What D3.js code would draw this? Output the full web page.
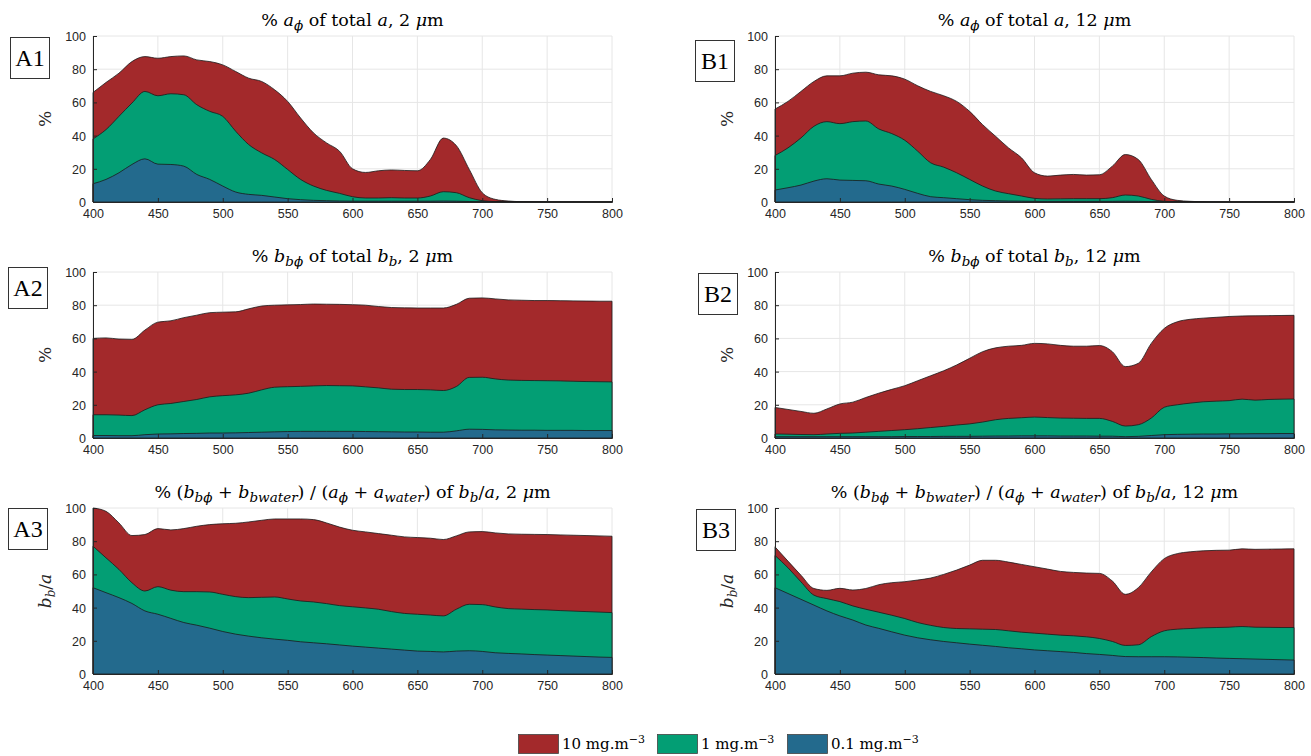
<!DOCTYPE html>
<html>
<head>
<meta charset="utf-8">
<script src="https://cdn.jsdelivr.net/npm/d3@7"></script>
<style>
  body { margin: 0; background: #fff; }
  svg { display: block; }
  .tick text { font-family: "Liberation Sans", Arial, sans-serif; font-size: 12.5px; fill: #262626; }
</style>
</head>
<body>
<div class="chart"></div>
<script>
var svgWidth = 1311;
var svgHeight = 756;

// wavelengths (nm), shared by every panel
var wavelengths = d3.range(400, 801, 10);
var xTicks = [400, 450, 500, 550, 600, 650, 700, 750, 800];
var yTicks = [0, 20, 40, 60, 80, 100];

var seriesNames = ["10 mg.m", "1 mg.m", "0.1 mg.m"];
var seriesColors = ["#a3292b", "#039e74", "#236a8d"];

// A1: % a_phi of total a, 2 um
var a1High = [66, 72, 77.6, 84.6, 87.6, 86.6, 87.6, 88, 85.6, 84.6, 82.6, 78.6, 74.6, 72.6, 67.6, 60.6, 50.6, 41.6, 35.6, 30.6, 20, 17.8, 18.8, 19.3, 19, 18.8, 25.6, 38.5, 34, 19.6, 5.6, 1.6, 0.6, 0.2, 0.1, 0, 0, 0, 0, 0, 0];
var a1Mid = [38, 43.6, 51.6, 59.6, 66.6, 64, 65.2, 64.6, 58.6, 54.6, 51.6, 42.6, 34.6, 29.6, 25.6, 19.6, 13.6, 9.6, 7, 5.2, 3.2, 2.4, 2.4, 2.6, 2.4, 2.4, 3.6, 6.2, 5.6, 2.6, 0.8, 0.2, 0, 0, 0, 0, 0, 0, 0, 0, 0];
var a1Low = [11, 13.6, 17.6, 22.6, 26, 22.8, 22.6, 21.6, 16.6, 13.6, 9.6, 6, 4.6, 4, 3, 2, 1.4, 1, 0.8, 0.6, 0.5, 0.5, 0.5, 0.5, 0.5, 0.5, 0.5, 0.6, 0.5, 0.3, 0.1, 0, 0, 0, 0, 0, 0, 0, 0, 0, 0];

// B1: % a_phi of total a, 12 um
var b1High = [56, 60.6, 66.6, 72.6, 76, 76, 77.6, 78.2, 76.6, 76, 74, 70, 66.6, 64, 60.6, 54.6, 46.6, 39.6, 32.6, 26.6, 17.6, 15.6, 16.2, 16.6, 16.2, 16.4, 21.6, 28.6, 25.6, 13.6, 3.6, 1, 0.4, 0.1, 0, 0, 0, 0, 0, 0, 0];
var b1Mid = [28, 32.6, 38.6, 45.6, 48.4, 47.2, 48.4, 48.8, 44, 41.2, 37.2, 30.6, 23.6, 21, 17.6, 13.6, 9.6, 6.6, 5, 3.6, 2.2, 1.8, 1.9, 2, 2, 2, 2.6, 4.2, 3.6, 1.6, 0.4, 0.1, 0, 0, 0, 0, 0, 0, 0, 0, 0];
var b1Low = [7.2, 8.6, 10.2, 12.6, 14, 13.2, 13, 12.8, 10.8, 9.6, 7.6, 5.2, 3.2, 2.6, 2, 1.4, 1, 0.8, 0.6, 0.5, 0.4, 0.4, 0.4, 0.4, 0.4, 0.4, 0.4, 0.5, 0.4, 0.2, 0.1, 0, 0, 0, 0, 0, 0, 0, 0, 0, 0];

// A2: % b_bphi of total b_b, 2 um
var a2High = [60, 60.3, 59.6, 59.4, 65, 69.8, 70.6, 72.5, 74, 75.5, 75.8, 76, 77.8, 79.5, 80, 80.2, 80.4, 80.7, 80.6, 80.5, 80.3, 80, 79.2, 78.6, 78.4, 78.3, 78.3, 78.3, 80.5, 84.2, 84.4, 83.8, 83.2, 83, 82.8, 82.8, 82.7, 82.6, 82.5, 82.4, 82.4];
var a2Mid = [14, 14, 13.8, 13.5, 17, 20, 20.8, 22, 23.2, 24.8, 25.5, 26, 27, 29, 30.6, 30.9, 31.1, 31.4, 31.6, 31.5, 31.4, 30.8, 30.2, 29.4, 29.2, 29.2, 29, 28.6, 31, 36.5, 36.6, 35.6, 34.9, 34.7, 34.6, 34.5, 34.4, 34.2, 34, 33.9, 33.8];
var a2Low = [1.5, 1.5, 1.4, 1.4, 2, 2.4, 2.5, 2.7, 2.8, 3, 3, 3.1, 3.3, 3.5, 3.7, 3.9, 4, 4, 4, 4, 4, 3.9, 3.8, 3.7, 3.6, 3.6, 3.5, 3.5, 4.3, 5.3, 5.2, 4.9, 4.8, 4.7, 4.7, 4.6, 4.6, 4.6, 4.5, 4.5, 4.5];

// B2: % b_bphi of total b_b, 12 um
var b2High = [18.4, 17.2, 16, 14.9, 17.5, 20.5, 21.6, 24.4, 27, 29.3, 31.5, 34.5, 37.5, 40.5, 44, 48, 52, 54.3, 55.3, 55.8, 57, 56.7, 55.8, 55.3, 55.3, 55.7, 52, 43, 45, 57, 66, 70, 71.5, 72.2, 72.7, 73.2, 73.5, 73.6, 73.7, 73.8, 73.9];
var b2Mid = [2.4, 2.3, 2.1, 2, 2.4, 2.8, 3, 3.5, 4, 4.5, 5, 5.6, 6.3, 7, 7.8, 8.5, 9.6, 11, 11.8, 12.2, 12.6, 12.3, 12, 11.9, 11.8, 11.8, 10, 7.2, 8, 12, 18.5, 20, 21, 21.8, 22.2, 22.5, 23.4, 22.8, 23.2, 23.4, 23.5];
var b2Low = [0.8, 0.8, 0.8, 0.8, 0.8, 0.8, 0.8, 0.8, 0.8, 0.8, 0.9, 0.9, 0.9, 1, 1, 1, 1.1, 1.2, 1.2, 1.3, 1.3, 1.3, 1.2, 1.2, 1.2, 1.1, 1.1, 0.8, 1, 1.5, 2, 2.2, 2.3, 2.4, 2.4, 2.5, 2.5, 2.6, 2.6, 2.7, 2.7];

// A3: % (b_bphi + b_bwater) / (a_phi + a_water) of b_b/a, 2 um
var a3High = [100, 98, 91, 83.4, 84, 87.6, 86.8, 87.6, 89, 90, 90.5, 90.8, 91.6, 92.6, 93.4, 93.4, 93.4, 93, 91, 88.5, 86.6, 85.6, 84.6, 83.6, 82.6, 82.2, 81.8, 81, 83.2, 85.6, 85.8, 85, 84.4, 84.2, 84.1, 84, 83.8, 83.6, 83.4, 83.2, 83];
var a3Mid = [77, 70, 63, 55, 50, 52.6, 50.5, 49.6, 49.6, 49.4, 48, 46.6, 46, 46.2, 46.4, 45.2, 44, 43.4, 42.4, 41.2, 40.5, 39.8, 39, 37.6, 36.5, 36, 35.5, 35, 39, 42, 41.8, 40.4, 39.4, 39.1, 38.8, 38.6, 38.2, 37.9, 37.6, 37.3, 37];
var a3Low = [52, 49, 46, 42.5, 38, 36, 33.5, 31, 29.4, 27.6, 25.6, 24, 22.8, 21.8, 21, 20.3, 19.4, 18.8, 18.2, 17.5, 16.8, 16.2, 15.6, 15, 14.4, 13.8, 13.6, 13.3, 13.8, 14, 13.6, 12.8, 12.4, 12.1, 11.7, 11.4, 11.1, 10.8, 10.5, 10.2, 10];

// B3: % (b_bphi + b_bwater) / (a_phi + a_water) of b_b/a, 12 um
var b3High = [76.6, 68, 59.5, 51.5, 50.4, 51.6, 50.6, 51.5, 53.8, 55, 55.6, 56.6, 57.8, 60, 62.6, 65.6, 68.5, 68.5, 67.4, 66, 64.6, 63.2, 61.8, 61.2, 60.8, 60.6, 56, 48, 52, 61.5, 69.5, 72.5, 73.6, 74.2, 74.5, 74.6, 75.4, 75.1, 75.2, 75.3, 75.4];
var b3Mid = [71.4, 64, 55.5, 47.5, 45.4, 43.6, 41, 39, 37.2, 35.4, 33.4, 31, 29.3, 28, 27.4, 27.2, 27, 26.8, 26, 25.2, 24.6, 24, 23.4, 23, 22.4, 21.4, 19.6, 17.2, 17.6, 22.5, 26, 27, 27.4, 27.8, 28, 28.2, 28.6, 28.2, 28.1, 28, 28];
var b3Low = [52, 48.5, 45, 41.5, 38, 35, 32.5, 29.5, 27.5, 25.4, 23.4, 21.8, 20.6, 19.6, 18.8, 18, 17.3, 16.6, 15.8, 15.2, 14.5, 14, 13.5, 13, 12.3, 11.8, 11.2, 10.5, 10.4, 10.4, 10.4, 10.3, 10.1, 9.9, 9.6, 9.4, 9.2, 9, 8.8, 8.6, 8.4];

// title pieces: [text, italic?, sub?]
function titleParts(kind, size) {
  var um = [[", " + size + " ", 0, 0], ["μ", 1, 0], ["m", 0, 0]];
  if (kind === 1) return [["% ", 0, 0], ["a", 1, 0], ["ϕ", 1, 1], [" of total ", 0, 0], ["a", 1, 0]].concat(um);
  if (kind === 2) return [["% ", 0, 0], ["b", 1, 0], ["bϕ", 1, 1], [" of total ", 0, 0], ["b", 1, 0], ["b", 1, 1]].concat(um);
  return [["% (", 0, 0], ["b", 1, 0], ["bϕ", 1, 1], [" + ", 0, 0], ["b", 1, 0], ["bwater", 1, 1], [") / (", 0, 0],
    ["a", 1, 0], ["ϕ", 1, 1], [" + ", 0, 0], ["a", 1, 0], ["water", 1, 1], [") of ", 0, 0],
    ["b", 1, 0], ["b", 1, 1], ["/", 0, 0], ["a", 1, 0]].concat(um);
}

var panels = [
  {label: "A1", kind: 1, size: "2", left: 93, top: 36, data: [a1High, a1Mid, a1Low]},
  {label: "B1", kind: 1, size: "12", left: 775, top: 36, data: [b1High, b1Mid, b1Low]},
  {label: "A2", kind: 2, size: "2", left: 93, top: 272, data: [a2High, a2Mid, a2Low]},
  {label: "B2", kind: 2, size: "12", left: 775, top: 272, data: [b2High, b2Mid, b2Low]},
  {label: "A3", kind: 3, size: "2", left: 93, top: 508, data: [a3High, a3Mid, a3Low]},
  {label: "B3", kind: 3, size: "12", left: 775, top: 508, data: [b3High, b3Mid, b3Low]}
];
var labelBoxes = {A1: [10, 37], B1: [695, 40], A2: [8, 267], B2: [698, 273], A3: [8, 508], B3: [696, 509]};

var chartWidth = 519;
var chartHeight = 166;
var serif = "'DejaVu Serif', 'Liberation Serif', serif";
var lserif = "'Liberation Serif', serif";

var svg = d3.select(".chart")
  .append("svg")
  .attr("width", svgWidth)
  .attr("height", svgHeight);

var x = d3.scaleLinear().domain([400, 800]).range([0, chartWidth]);
var y = d3.scaleLinear().domain([0, 100]).range([chartHeight, 0]);

function addRich(textSel, parts, subSize) {
  var shift = 0;
  parts.forEach(function(p) {
    var t = textSel.append("tspan").text(p[0]);
    if (p[1]) t.attr("font-style", "italic");
    var want = p[2] ? 4 : 0;
    if (want !== shift) { t.attr("dy", want - shift); shift = want; }
    if (p[2]) t.attr("font-size", subSize);
  });
}

panels.forEach(function(p) {
  var g = svg.append("g").attr("transform", `translate(${p.left}, ${p.top})`);

  // grid
  g.append("g").selectAll("line.gx").data(xTicks).enter().append("line")
    .attr("x1", function(d) { return x(d); }).attr("x2", function(d) { return x(d); })
    .attr("y1", 0).attr("y2", chartHeight)
    .attr("stroke", "#e6e6e6").attr("stroke-width", 1);
  g.append("g").selectAll("line.gy").data(yTicks).enter().append("line")
    .attr("x1", 0).attr("x2", chartWidth)
    .attr("y1", function(d) { return y(d); }).attr("y2", function(d) { return y(d); })
    .attr("stroke", "#e6e6e6").attr("stroke-width", 1);

  // areas, highest concentration behind
  p.data.forEach(function(vals, i) {
    var area = d3.area()
      .x(function(d, k) { return x(wavelengths[k]); })
      .y0(y(0))
      .y1(function(d) { return y(d); })
      .curve(d3.curveMonotoneX);
    g.append("path")
      .datum(vals)
      .attr("d", area)
      .attr("fill", seriesColors[i])
      .attr("stroke", "#1a1a1a")
      .attr("stroke-width", 0.8)
      .attr("stroke-linejoin", "round");
  });

  var bottomAxis = d3.axisBottom(x).tickValues(xTicks).tickSize(-4).tickPadding(7).tickFormat(d3.format("d"));
  var leftAxis = d3.axisLeft(y).tickValues(yTicks).tickSize(-4).tickPadding(7);

  var xa = g.append("g").attr("transform", `translate(0, ${chartHeight})`).call(bottomAxis);
  var ya = g.append("g").call(leftAxis);
  [xa, ya].forEach(function(a) {
    a.select(".domain").attr("stroke", "#262626").attr("stroke-width", 1);
    a.selectAll(".tick line").attr("stroke", "#262626");
  });
  ya.selectAll(".tick text").attr("dy", "0.36em");

  // title
  var title = g.append("text")
    .attr("x", chartWidth / 2)
    .attr("y", -10)
    .attr("text-anchor", "middle")
    .style("font-family", serif)
    .style("font-size", "17.5px")
    .attr("fill", "#000");
  addRich(title, titleParts(p.kind, p.size), "13.5px");

  // y label
  var yl = g.append("text")
    .attr("transform", `translate(-42, ${chartHeight / 2}) rotate(-90)`)
    .attr("text-anchor", "middle")
    .style("font-family", serif)
    .style("font-size", "17px")
    .attr("fill", "#262626");
  if (p.kind === 3) {
    addRich(yl, [["b", 1, 0], ["b", 1, 1], ["/", 0, 0], ["a", 1, 0]], "12px");
  } else {
    yl.text("%");
  }

  // panel letter
  var lb = labelBoxes[p.label];
  svg.append("rect")
    .attr("x", lb[0] + 0.5).attr("y", lb[1] + 0.5)
    .attr("width", 39).attr("height", 41)
    .attr("fill", "#fff").attr("stroke", "#333").attr("stroke-width", 1);
  svg.append("text")
    .attr("x", lb[0] + 20).attr("y", lb[1] + 29)
    .attr("text-anchor", "middle")
    .style("font-family", lserif)
    .style("font-size", "24px")
    .text(p.label);
});

// legend
var legendX = [518, 657, 787];
var legend = svg.append("g");
seriesNames.forEach(function(name, i) {
  legend.append("rect")
    .attr("x", legendX[i] + 0.5).attr("y", 734.5)
    .attr("width", 40).attr("height", 19)
    .attr("fill", seriesColors[i]).attr("stroke", "#444").attr("stroke-width", 0.8);
  var t = legend.append("text")
    .attr("x", legendX[i] + 44).attr("y", 749)
    .style("font-family", serif)
    .style("font-size", "15px");
  t.append("tspan").text(name);
  t.append("tspan").attr("dy", -6).attr("font-size", "11px").text("−3");
});
</script>
</body>
</html>
